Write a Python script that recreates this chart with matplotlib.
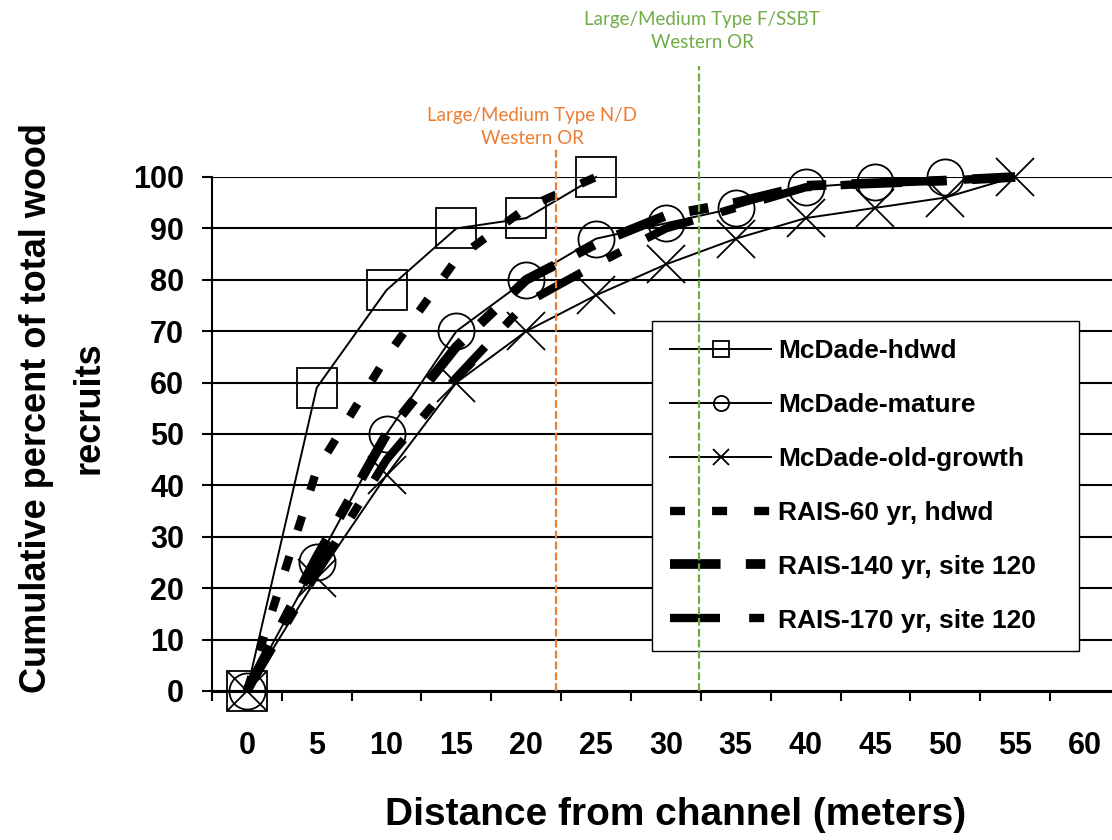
import matplotlib
matplotlib.use("Agg")
import matplotlib.pyplot as plt
from matplotlib.ticker import MultipleLocator, FixedLocator

# Distances from the channel (m) and cumulative percent of wood recruits
dist_hdwd = [0, 5, 10, 15, 20, 25]
mcdade_hdwd = [0, 59, 78, 90, 92, 100]

dist_mature = [0, 5, 10, 15, 20, 25, 30, 35, 40, 45, 50]
mcdade_mature = [0, 25, 50, 70, 80, 88, 91, 94, 98, 99, 100]

dist_old = [0, 5, 10, 15, 20, 25, 30, 35, 40, 45, 50, 55]
mcdade_old = [0, 22, 42, 60, 70, 77, 83, 88, 92, 94, 96, 100]

dist_rais60 = [0, 5, 10, 15, 20, 25]
rais_60 = [0, 43, 65, 84, 94, 100]

dist_rais = [0, 5, 10, 15, 20, 25, 30, 35, 40, 45, 50, 55]
rais_140 = [0, 26, 50, 67, 80, 87, 92.5, 95, 98.3, 98.8, 99.3, 100]
rais_170 = [0, 23, 45, 61, 75.5, 83, 90, 94, 98, 98.8, 99.3, 100]

x_ticks = list(range(0, 65, 5))
y_ticks = list(range(0, 110, 10))

# buffer widths (m) for the two channel classes
buffer_nd = 22.1
buffer_fssbt = 32.4

plt.rcParams["font.family"] = ["Liberation Sans", "DejaVu Sans"]

fig = plt.figure(figsize=(11.12, 8.4), dpi=100)
ax = fig.add_axes([0.1906, 0.1774, 0.8165, 0.6119])

mk = dict(color="black", lw=1.4, markeredgewidth=1.3, fillstyle="none", clip_on=False)
ax.plot(dist_hdwd, mcdade_hdwd, marker="s", markersize=29,
        label="McDade-hdwd", zorder=4, **mk)
ax.plot(dist_mature, mcdade_mature, marker="o", markersize=26,
        label="McDade-mature", zorder=4, **mk)
ax.plot(dist_old, mcdade_old, marker="x", markersize=27,
        label="McDade-old-growth", zorder=4, **mk)

ax.plot(dist_rais60, rais_60, color="black", lw=6, dashes=(1.8, 3.25),
        label="RAIS-60 yr, hdwd", zorder=3, clip_on=False)
ax.plot(dist_rais, rais_140, color="black", lw=7, dashes=(5.2, 2.6, 2.0, 2.6),
        label="RAIS-140 yr, site 120", zorder=3, clip_on=False)
ax.plot(dist_rais, rais_170, color="black", lw=6, dashes=(6.0, 3.5, 1.8, 3.5),
        label="RAIS-170 yr, site 120", zorder=3, clip_on=False)

# buffer lines reach above the plotting area up to their captions
ax.plot([buffer_nd, buffer_nd], [0, 105.5], color="#ED7D31", lw=1.6,
        dashes=(3.5, 1.4), clip_on=False, zorder=10)
ax.plot([buffer_fssbt, buffer_fssbt], [0, 121.5], color="#70AD47", lw=1.6,
        dashes=(3.5, 1.4), clip_on=False, zorder=10)
fig.text(532 / 1112, 1 - 127 / 840, "Large/Medium Type N/D\nWestern OR",
         color="#ED7D31", fontsize=13.5, family="Lato", ha="center", va="center",
         linespacing=1.45)
fig.text(702 / 1112, 1 - 31 / 840, "Large/Medium Type F/SSBT\nWestern OR",
         color="#70AD47", fontsize=13.5, family="Lato", ha="center", va="center",
         linespacing=1.45)

ax.set_xlim(-2.5, 62.5)
ax.set_ylim(0, 100)
ax.xaxis.set_major_locator(FixedLocator(x_ticks))
ax.xaxis.set_minor_locator(MultipleLocator(5, offset=2.5))
ax.yaxis.set_major_locator(FixedLocator(y_ticks))
ax.tick_params(axis="x", which="major", length=0, pad=29, labelsize=22)
ax.tick_params(axis="x", which="minor", length=7, width=1.5, direction="out")
ax.tick_params(axis="y", which="major", length=7, width=1.5, pad=13,
               labelsize=22, direction="out")
for lbl in ax.get_xticklabels() + ax.get_yticklabels():
    lbl.set_fontweight("bold")

ax.grid(axis="y", color="black", lw=1.5)
ax.set_axisbelow(True)
ax.spines["top"].set_visible(False)
ax.spines["right"].set_visible(False)
ax.spines["left"].set_linewidth(1.5)
ax.spines["bottom"].set_linewidth(2.2)

fig.text(63 / 1112, 1 - 408 / 840, "Cumulative percent of total wood\nrecruits",
         rotation=90, ha="center", va="center", fontsize=26, fontweight="bold",
         linespacing=1.65)
fig.text(676 / 1112, 1 - 815 / 840, "Distance from channel (meters)",
         ha="center", va="center", fontsize=28, fontweight="bold")

leg = ax.legend(loc="upper left", bbox_to_anchor=(0.5863, 0.2143, 0.384, 0.4036),
                bbox_transform=fig.transFigure, mode="expand", borderaxespad=0,
                prop={"weight": "bold", "size": 19}, markerscale=0.42,
                handlelength=3.8, handletextpad=0.27, labelspacing=1.13,
                borderpad=0.7, fancybox=False, framealpha=1, edgecolor="black")
leg.get_frame().set_linewidth(1.0)

fig.savefig("out.png", dpi=100)
